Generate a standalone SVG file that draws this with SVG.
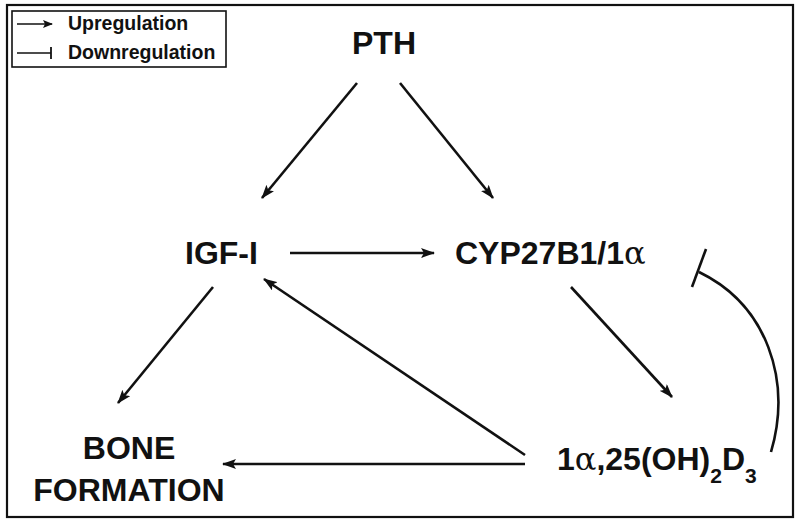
<svg xmlns="http://www.w3.org/2000/svg" width="800" height="525" viewBox="0 0 800 525">
<style>
.t{font-family:"Liberation Sans",Arial,sans-serif;font-weight:bold;fill:#111;font-size:32px}
.lg{font-family:"Liberation Sans",Arial,sans-serif;font-weight:bold;fill:#111;font-size:19.5px}
.a{font-family:"DejaVu Serif","Liberation Serif",serif;font-weight:normal}
.ln{stroke:#111;stroke-width:2.6;fill:none}
</style>
<defs>
<marker id="ah" viewBox="0 0 14 10" refX="13" refY="5" markerWidth="14" markerHeight="10" markerUnits="userSpaceOnUse" orient="auto">
<path d="M0,0 L14,5 L0,10 L3,5 Z" fill="#111"/>
</marker>
<marker id="ahs" viewBox="0 0 10 8" refX="9" refY="4" markerWidth="10" markerHeight="8" markerUnits="userSpaceOnUse" orient="auto">
<path d="M0,0 L10,4 L0,8 L2,4 Z" fill="#111"/>
</marker>
</defs>
<rect width="800" height="525" fill="#fff"/>
<rect x="7" y="5" width="786" height="512" fill="none" stroke="#111" stroke-width="2.2"/>
<g id="legend">
<rect x="12" y="11" width="214" height="56" fill="none" stroke="#111" stroke-width="1.6"/>
<line x1="17" y1="24" x2="52" y2="24" stroke="#111" stroke-width="1.6" marker-end="url(#ahs)"/>
<line x1="17" y1="53" x2="51" y2="53" stroke="#111" stroke-width="1.6"/>
<line x1="51" y1="47" x2="51" y2="59" stroke="#111" stroke-width="1.8"/>
<text class="lg" x="68" y="30">Upregulation</text>
<text class="lg" x="68" y="59">Downregulation</text>
</g>
<g id="pth"><text class="t" x="384" y="54" text-anchor="middle">PTH</text></g>
<g id="igf"><text class="t" x="185" y="264">IGF-I</text></g>
<g id="cyp"><text class="t" x="455" y="264">CYP27B1/1<tspan class="a">α</tspan></text></g>
<g id="bone"><text class="t" x="129" y="459" text-anchor="middle">BONE</text><text class="t" x="129" y="501" text-anchor="middle">FORMATION</text></g>
<g id="vitd"><text class="t" x="557" y="470">1<tspan class="a">α</tspan>,25(OH)<tspan font-size="21" dy="13">2</tspan><tspan dy="-13">D</tspan><tspan font-size="21" dy="13">3</tspan></text></g>
<g id="connectors">
<line class="ln" x1="357" y1="83" x2="262" y2="198" marker-end="url(#ah)"/>
<line class="ln" x1="400" y1="83" x2="493" y2="198" marker-end="url(#ah)"/>
<line class="ln" x1="290" y1="253" x2="434" y2="253" marker-end="url(#ah)"/>
<line class="ln" x1="213" y1="287" x2="118" y2="403" marker-end="url(#ah)"/>
<line class="ln" x1="571" y1="287" x2="672" y2="397" marker-end="url(#ah)"/>
<line class="ln" x1="525" y1="455" x2="264" y2="279" marker-end="url(#ah)"/>
<line class="ln" x1="525" y1="464" x2="223" y2="464" marker-end="url(#ah)"/>
<path class="ln" d="M771,452 C792,380 767,305 699,272"/>
<line class="ln" x1="706" y1="249" x2="692" y2="287"/>
</g>
</svg>
